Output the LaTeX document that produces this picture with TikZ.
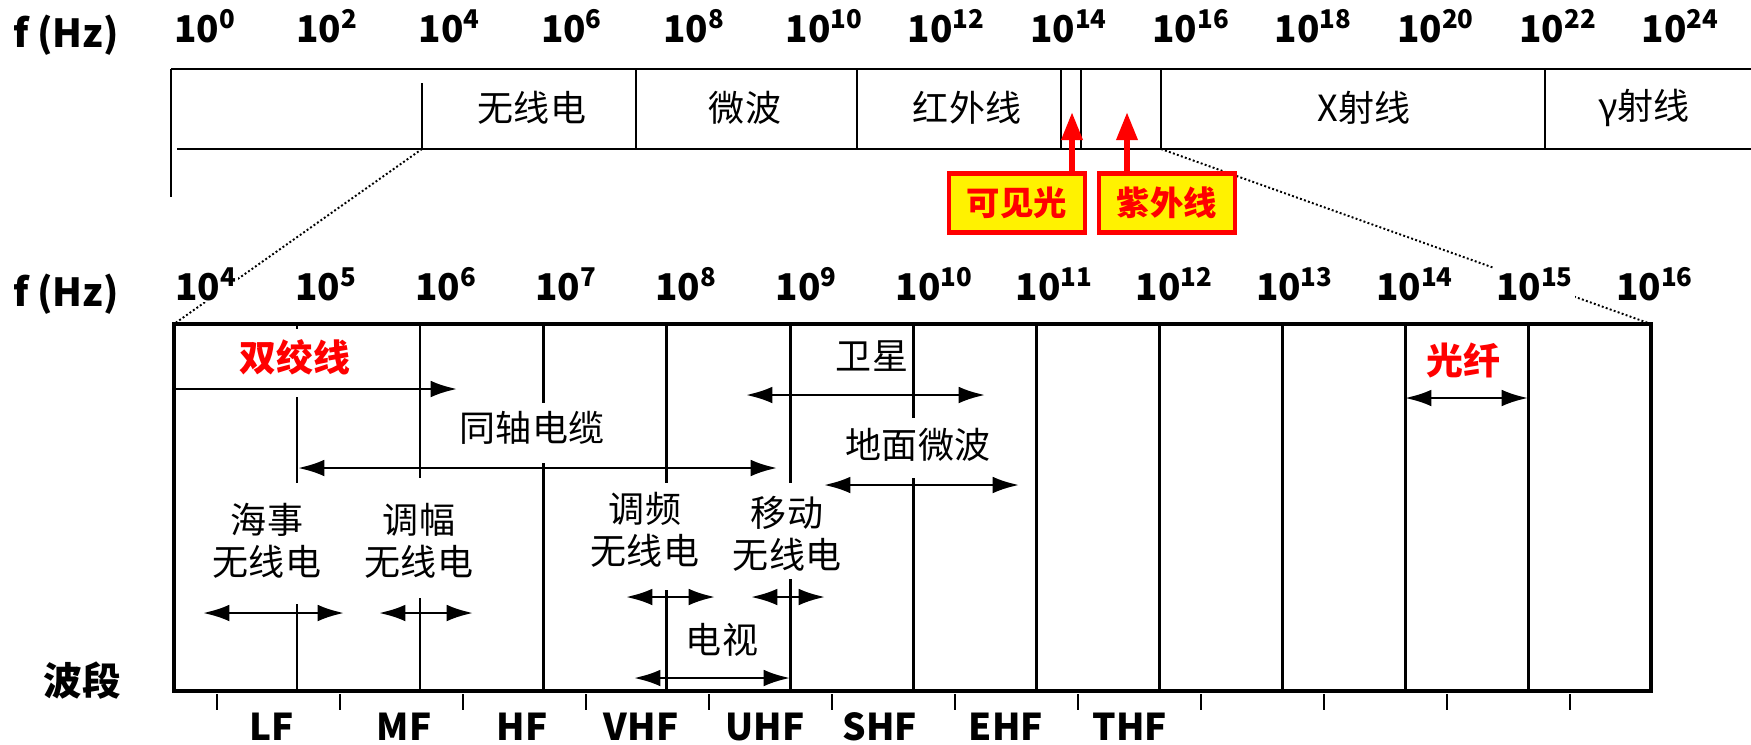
\documentclass[tikz,border=0pt]{standalone}
\usepackage{fontspec}
\setmainfont{Noto Sans CJK SC}
\usepackage{tikz}
\usetikzlibrary{arrows.meta}

\begin{document}
\begin{tikzpicture}[x=0.02cm,y=-0.02cm,
  thickbar/.style={line width=1.7pt},
  thinbar/.style={line width=1.1pt},
  boxline/.style={line width=2.3pt},
  decline/.style={line width=1.7pt},
  tick/.style={line width=1.0pt},
  zoomline/.style={line width=1.1pt, dash pattern=on 1.1pt off 1.3pt},
  freq/.style={anchor=base west, fill=white, inner sep=1pt,
    font=\bfseries\fontsize{21}{24}\selectfont},
  axislbl/.style={font=\bfseries\fontsize{22}{26}\selectfont},
  bandlbl/.style={anchor=base, font=\bfseries\fontsize{21}{24}\selectfont},
  zh/.style={align=center, inner sep=1pt, font=\fontsize{20.5}{24}\selectfont},
  redlbl/.style={text=red, inner sep=1pt, font=\bfseries\fontsize{21}{24}\selectfont},
  callout/.style={draw=red, line width=2.8pt, fill=yellow, text=red,
    minimum width=2.72cm, minimum height=1.18cm, inner sep=0pt,
    font=\bfseries\fontsize{19}{21}\selectfont},
  redarrow/.style={red, line width=3.4pt, -{Triangle[length=16pt,width=11.5pt]}},
  span/.style={line width=1.5pt, {Latex[length=15pt,width=9.5pt]}-{Latex[length=15pt,width=9.5pt]}},
  oneway/.style={line width=1.5pt, -{Latex[length=15pt,width=9.5pt]}}
]

\useasboundingbox (0,0) rectangle (1751,744);

% ------------------------------------------------------------
% Upper bar: the whole spectrum
% ------------------------------------------------------------
\draw[thickbar] (171,69) -- (1751,69);
\draw[thickbar] (177,149) -- (1751,149);
\draw[thinbar] (171,69) -- (171,197);
\draw[thinbar] (422,83) -- (422,149);
\foreach \x in {636,857,1061,1081,1161,1545} {
  \draw[thinbar] (\x,69) -- (\x,149);
}

% zoom lines down to the lower chart
\coordinate (radioL) at (422,149);
\coordinate (xrayL) at (1161,149);
\coordinate (boxNW) at (174,324);
\coordinate (boxNE) at (1651,324);
\coordinate (boxSE) at (1651,691);
\draw[zoomline] (radioL) -- (boxNW);
\draw[zoomline] (xrayL) -- (boxNE);

% frequency labels, 10^0 ... 10^24
\node[axislbl, anchor=base] (fTop) at (66,47) {f (Hz)};
\foreach \e [count=\k from 0] in {0,2,...,24} {
  \node[freq] (top\e) at ({172+122.3*\k},42) {10\textsuperscript{\e}};
}

% band names in the bar
\node[zh] (radio) at (532,108) {无线电};
\node[zh] (micro) at (745,108) {微波};
\node[zh] (ir) at (967,108) {红外线};
\node[zh] (xray) at (1364,108) {X射线};
\node[zh] (gamma) at (1644,108) {γ射线};

% visible light and ultraviolet call-outs
\node[callout] (vis) at (1017,203) {可见光};
\node[callout] (uv) at (1167,203) {紫外线};
\coordinate (visTip) at (1072,112);
\coordinate (uvTip) at (1127,112);
\draw[redarrow] (visTip |- vis.north) -- (visTip);
\draw[redarrow] (uvTip |- uv.north) -- (uvTip);

% ------------------------------------------------------------
% Lower chart: 10^4 ... 10^16 Hz
% ------------------------------------------------------------
\node[axislbl, anchor=base] (fBot) at (66,306) {f (Hz)};
\foreach \e [count=\k from 0] in {4,...,16} {
  \node[freq] (bot\e) at ({173+120.1*\k},300) {10\textsuperscript{\e}};
}

\draw[boxline] (boxNW) rectangle (boxSE);

% decade lines (broken where a label sits)
\foreach \x/\a/\b in {297/324/329, 297/397/483, 297/604/691,
  420/324/478, 420/598/691, 543/324/403, 543/463/691,
  666/324/483, 666/590/691, 790/324/483, 790/579/691,
  913/324/418, 913/478/691, 1036/324/691, 1159/324/691,
  1282/324/691, 1405/324/691, 1528/324/691} {
  \draw[decline] (\x,\a) -- (\x,\b);
}

% band ticks and names
\node[axislbl] (bands) at (82,681) {波段};
\foreach \k in {0,...,11} {
  \draw[tick] ({217+123*\k},694) -- ({217+123*\k},710);
}
\foreach \x/\b in {272/LF, 404/MF, 522/HF, 641/VHF, 765/UHF,
  880/SHF, 1006/EHF, 1130/THF} {
  \node[bandlbl] (\b) at (\x,740) {\b};
}

% ------------------------------------------------------------
% Media and services
% ------------------------------------------------------------
\node[redlbl] (twisted) at (295,357) {双绞线};
\draw[oneway] (174,389) -- (457,389);

\node[zh] (coax) at (532,428) {同轴电缆};
\draw[span] (298,468) -- (777,468);

\node[zh] (sat) at (872,356) {卫星};
\draw[span] (746,395) -- (985,395);

\node[zh] (terr) at (918,445) {地面微波};
\draw[span] (824,485) -- (1019,485);

\node[zh] (marine) at (267,541) {海事\\无线电};
\draw[span] (203,613) -- (344,613);

\node[zh] (am) at (419,541) {调幅\\无线电};
\draw[span] (379,613) -- (473,613);

\node[zh] (fm) at (645,530) {调频\\无线电};
\draw[span] (626,597) -- (715,597);

\node[zh] (mobile) at (787,534) {移动\\无线电};
\draw[span] (751,597) -- (825,597);

\node[zh] (tv) at (722,640) {电视};
\draw[span] (634,678) -- (790,678);

\node[redlbl] (fiber) at (1463,360) {光纤};
\draw[span] (1405,398) -- (1528,398);

\end{tikzpicture}
\end{document}
